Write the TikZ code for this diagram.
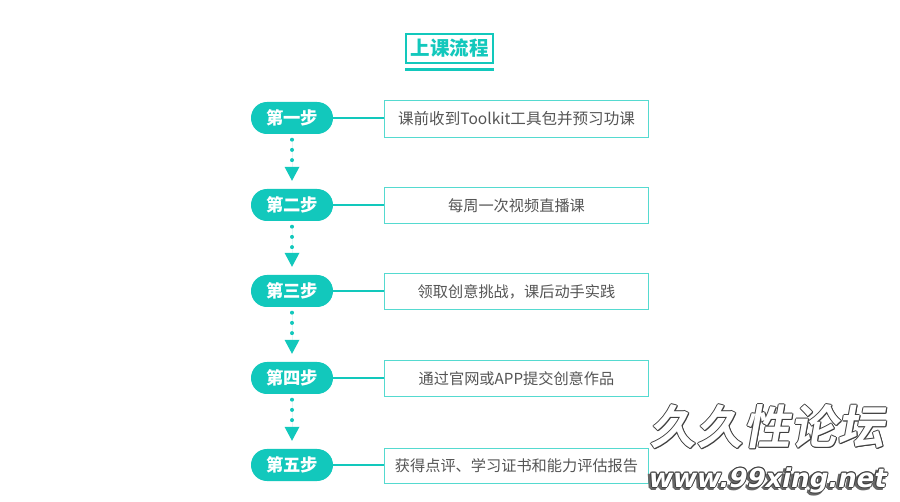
\documentclass[tikz,border=0pt]{standalone}
\usepackage{fontspec}
\usetikzlibrary{arrows.meta}
\newfontfamily\cjk{Noto Sans CJK SC}
\newfontfamily\cjkbold[FakeSlant=0.18]{Noto Sans CJK SC Bold}
\newfontfamily\wmfont[FakeSlant=0.2]{DejaVu Sans Bold}
\definecolor{brandteal}{HTML}{12C8BC}
\definecolor{edge}{HTML}{55DAD0}
\definecolor{txt}{HTML}{555555}
\tikzset{
  pill/.style={fill=brandteal,rounded corners=15.9pt,minimum width=82pt,minimum height=32pt,inner sep=0pt,text=white,font=\cjk\fontsize{17.3}{17}\selectfont\bfseries},
  taskbox/.style={draw=edge,line width=1.1pt,minimum width=264.5pt,inner sep=0pt,text=txt,font=\cjk\fontsize{15.2}{15}\selectfont},
  link/.style={draw=brandteal,line width=2pt},
  dotflow/.style={draw=brandteal,fill=brandteal,line width=4pt,line cap=round,dash pattern=on 0pt off 10.2pt,shorten <=5.5pt,shorten >=8pt,-{Triangle[length=14pt,width=15pt,line width=0pt]}},
  titlebox/.style={minimum width=87pt,minimum height=29pt,inner sep=0pt,text=brandteal,font=\cjk\fontsize{19.5}{20}\selectfont\bfseries},
  titleframe/.style={draw=brandteal,line width=2pt},
  wm/.style={inner sep=0pt,anchor=center}
}
\newcommand{\outlined}[4]{% x y font text
  \foreach \dx/\dy in {-1/0,1/0,0/-1,0/1,-.7/-.7,.7/.7,-.7/.7,.7/-.7}
    {\node[wm,text=black!75] at (#1+\dx,#2+\dy) {#3 #4};}
  \node[wm,text=white] at (#1,#2) {#3 #4};
}
\begin{document}
\begin{tikzpicture}[x=1pt,y=1pt]
\useasboundingbox (0,0) rectangle (900,501);
\fill[white] (0,0) rectangle (900,501);
\node[titlebox] (title) at (449.5,452.5) {上课流程};
\draw[titleframe] (title.south west) rectangle (title.north east);
\node[fill=brandteal,minimum width=89pt,minimum height=3.4pt,inner sep=0pt] (bar) at (449.5,431.3) {};
\node[pill] (p1) at (292,383) {第一步};
\node[pill] (p2) at (292,296) {第二步};
\node[pill] (p3) at (292,210) {第三步};
\node[pill] (p4) at (292,123) {第四步};
\node[pill] (p5) at (292,36) {第五步};
\node[taskbox,minimum height=36.5pt] (t1) at (516.5,382) {\fontsize{15.55}{15}\selectfont 课前收到Toolkit工具包并预习功课};
\node[taskbox,minimum height=35.5pt] (t2) at (516.5,295.5) {每周一次视频直播课};
\node[taskbox,minimum height=35.5pt] (t3) at (516.5,209.5) {领取创意挑战，课后动手实践};
\node[taskbox,minimum height=35.5pt] (t4) at (516.5,122.5) {通过官网或APP提交创意作品};
\node[taskbox,minimum height=35.5pt] (t5) at (516.5,35) {获得点评、学习证书和能力评估报告};
\foreach \i in {1,...,5}{\draw[link] (p\i) -- (t\i.west |- p\i);}
\foreach \i/\j in {1/2,2/3,3/4,4/5}{\draw[dotflow] (p\i.south) -- (p\j.north);}
\outlined{762}{74}{\cjkbold\fontsize{47}{47}\selectfont}{久久性论坛}
\foreach \k in {1,...,3}{\node[wm,text=black!60] at (762+\k,21-\k) {\wmfont\fontsize{26}{26}\selectfont www.99xing.net};}
\outlined{762}{21}{\wmfont\fontsize{26}{26}\selectfont}{www.99xing.net}
\end{tikzpicture}
\end{document}
